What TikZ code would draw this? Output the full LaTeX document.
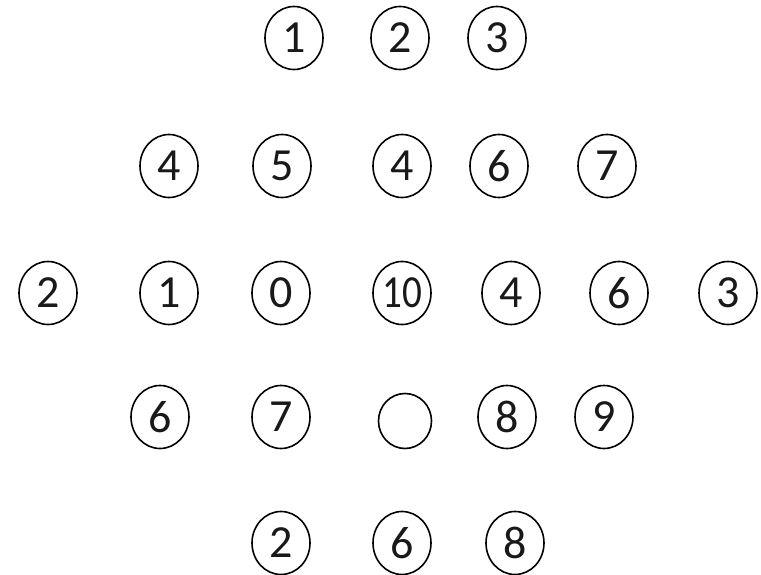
\documentclass[tikz,border=0pt]{standalone}
\usepackage{fontspec}
\setmainfont{Carlito}
\usetikzlibrary{shapes.geometric}
\begin{document}
\begin{tikzpicture}[x=1pt,y=-1pt,
  num/.style={ellipse,draw=black,line width=1.6pt,minimum width=58pt,minimum height=63pt,inner sep=0pt,
    font=\fontsize{46}{48}\selectfont,text=black!90},
  blank/.style={num,minimum width=53pt,minimum height=55pt}]
\useasboundingbox (0,0) rectangle (761,575);
% row 1
\node[num] (a1) at (294,38) {1};
\node[num] (a2) at (400,38) {2};
\node[num] (a3) at (497,38) {3};
% row 2
\node[num] (b1) at (169,166) {4};
\node[num] (b2) at (282,166) {5};
\node[num] (b3) at (402,166) {4};
\node[num] (b4) at (499,166) {6};
\node[num] (b5) at (607,166) {7};
% row 3
\node[num] (c1) at (48,293) {2};
\node[num] (c2) at (169,293) {1};
\node[num] (c3) at (281,293) {0};
\node[num] (c4) at (402,293) {\scalebox{0.85}[1]{10}};
\node[num] (c5) at (511,293) {4};
\node[num] (c6) at (619,293) {6};
\node[num] (c7) at (728,293) {3};
% row 4
\node[num] (d1) at (160,417) {6};
\node[num] (d2) at (281,417) {7};
\node[blank] (d3) at (405,421) {};
\node[num] (d4) at (507,417) {8};
\node[num] (d5) at (604,417) {9};
% row 5
\node[num] (e1) at (281,543) {2};
\node[num] (e2) at (402,543) {6};
\node[num] (e3) at (515,543) {8};
\end{tikzpicture}
\end{document}
